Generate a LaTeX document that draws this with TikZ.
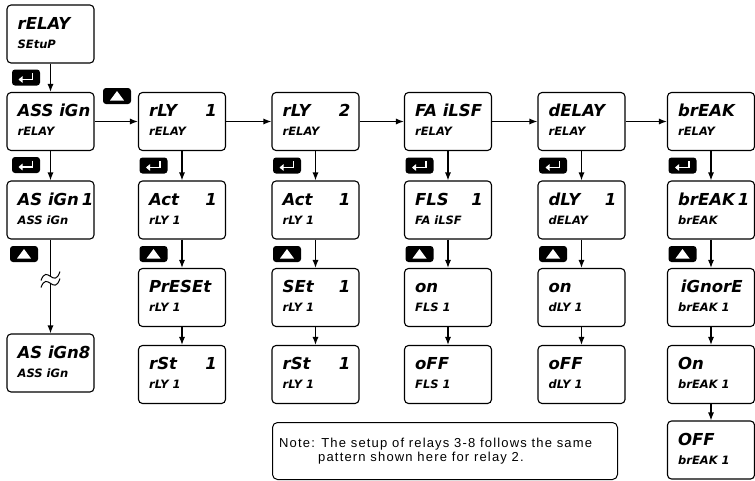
\documentclass[tikz,border=0pt]{standalone}
\usepackage{fontspec}
\setmainfont{Liberation Sans}
\newfontfamily\segfont{DejaVu Sans}
\newfontfamily\notefont{Liberation Sans}[LetterSpace=9]
\usetikzlibrary{arrows.meta,calc}
\tikzset{
  dbox/.style={draw, rounded corners=4pt, line width=1.1pt, minimum width=87pt, minimum height=58pt, inner sep=0pt},
  lineone/.style={anchor=base west, inner sep=0pt, font=\segfont\bfseries\itshape\fontsize{16.5}{16.5}\selectfont},
  lineonr/.style={lineone, anchor=base east},
  linetwo/.style={anchor=base west, inner sep=0pt, font=\segfont\bfseries\itshape\fontsize{11.5}{11.5}\selectfont},
  arr/.style={line width=1.1pt, -{Latex[length=8pt,width=6pt]}},
  keybox/.style={fill=black, rounded corners=3pt, minimum width=28pt, minimum height=16pt, inner sep=0pt},
  notebox/.style={draw, rounded corners=5pt, line width=1pt, minimum width=345pt, minimum height=57pt, inner sep=0pt, anchor=north west},
  notetext/.style={anchor=base west, inner sep=0pt, font=\notefont\fontsize{13}{14}\selectfont},
}
% name, left x, top y, line1, right text, line2
\newcommand\dispbox[6]{%
  \node[dbox] (#1) at (#2+43.5,#3+29) {};
  \node[lineone] (#1-a) at ([shift={(11,25)}]#1.north west) {#4};
  \node[lineonr] (#1-b) at ([shift={(-9,25)}]#1.north east) {#5};
  \node[linetwo] (#1-c) at ([shift={(11,44)}]#1.north west) {#6};
}
\newcommand\enterkey[3]{%
  \node[keybox] (#1) at (#2,#3) {};
  \draw[white, line width=1.6pt, -{Triangle[length=4pt,width=6.5pt]}]
    ([shift={(6.5,-4.5)}]#1.center) -- ([shift={(6.5,2)}]#1.center) -- ([shift={(-7.5,2)}]#1.center);
}
\newcommand\upkey[3]{%
  \node[keybox] (#1) at (#2,#3) {};
  \fill[white] ([shift={(-7,4.5)}]#1.center) -- ([shift={(7,4.5)}]#1.center) -- ([shift={(0,-5)}]#1.center) -- cycle;
}
\begin{document}
\begin{tikzpicture}[x=1pt,y=-1pt]
\useasboundingbox (0,0) rectangle (755,480);
% column 0
\dispbox{setup}{7}{5}{rELAY}{}{SEtuP}
\dispbox{assign}{7}{92.5}{ASS iGn}{}{rELAY}
\dispbox{asg1}{7}{181}{AS iGn\hspace{3pt}1}{}{ASS iGn}
\dispbox{asg8}{7}{334}{AS iGn8}{}{ASS iGn}
% column 1
\dispbox{rly1}{138.5}{92.5}{rLY}{1}{rELAY}
\dispbox{act1}{138.5}{181}{Act}{1}{rLY 1}
\dispbox{preset}{138.5}{268.5}{PrESEt}{}{rLY 1}
\dispbox{rst1}{138.5}{345.5}{rSt}{1}{rLY 1}
% column 2
\dispbox{rly2}{272}{92.5}{rLY}{2}{rELAY}
\dispbox{act2}{272}{181}{Act}{1}{rLY 1}
\dispbox{set2}{272}{268.5}{SEt}{1}{rLY 1}
\dispbox{rst2}{272}{345.5}{rSt}{1}{rLY 1}
% column 3
\dispbox{fail}{404.5}{92.5}{FA iLSF}{}{rELAY}
\dispbox{fls}{404.5}{181}{FLS}{1}{FA iLSF}
\dispbox{flson}{404.5}{268.5}{on}{}{FLS 1}
\dispbox{flsoff}{404.5}{345.5}{oFF}{}{FLS 1}
% column 4
\dispbox{delay}{538}{92.5}{dELAY}{}{rELAY}
\dispbox{dly}{538}{181}{dLY}{1}{dELAY}
\dispbox{dlyon}{538}{268.5}{on}{}{dLY 1}
\dispbox{dlyoff}{538}{345.5}{oFF}{}{dLY 1}
% column 5
\dispbox{brk}{667.5}{92.5}{brEAK}{}{rELAY}
\dispbox{brk1}{667.5}{181}{brEAK\hspace{3pt}1}{}{brEAK}
\dispbox{ign}{667.5}{268.5}{\,iGnorE}{}{brEAK 1}
\dispbox{brkon}{667.5}{345.5}{On}{}{brEAK 1}
\dispbox{brkoff}{667.5}{421}{OFF}{}{brEAK 1}
% keys
\enterkey{k0}{26}{77.5}
\enterkey{k1}{26}{165}
\upkey{u0}{24}{254}
\upkey{uh}{117}{96}
\enterkey{k2}{153.5}{165.5}
\upkey{u1}{153.5}{254}
\enterkey{k3}{287}{165.5}
\upkey{u2}{287}{254}
\enterkey{k4}{419.5}{165.5}
\upkey{u3}{419.5}{254}
\enterkey{k5}{553}{165.5}
\upkey{u4}{553}{254}
\enterkey{k6}{682.5}{165.5}
\upkey{u5}{682.5}{254}
% connectors
\draw[arr] (setup) -- (assign);
\draw[arr] (assign) -- (asg1);
\draw[arr] (asg1) -- (asg8);
\draw[arr] (assign) -- (rly1);
\draw[arr] (rly1) -- (rly2);
\draw[arr] (rly2) -- (fail);
\draw[arr] (fail) -- (delay);
\draw[arr] (delay) -- (brk);
\draw[arr] (rly1) -- (act1);
\draw[arr] (act1) -- (preset);
\draw[arr] (preset) -- (rst1);
\draw[arr] (rly2) -- (act2);
\draw[arr] (act2) -- (set2);
\draw[arr] (set2) -- (rst2);
\draw[arr] (fail) -- (fls);
\draw[arr] (fls) -- (flson);
\draw[arr] (flson) -- (flsoff);
\draw[arr] (delay) -- (dly);
\draw[arr] (dly) -- (dlyon);
\draw[arr] (dlyon) -- (dlyoff);
\draw[arr] (brk) -- (brk1);
\draw[arr] (brk1) -- (ign);
\draw[arr] (ign) -- (brkon);
\draw[arr] (brkon) -- (brkoff);
% break mark
\draw[white, line width=5pt] (41,284) .. controls (47,267) and (54,293) .. (60,275);
\draw[line width=1pt] (41,287.5) .. controls (47,270.5) and (54,296.5) .. (60,278.5);
\draw[line width=1pt] (41,280.5) .. controls (47,263.5) and (54,289.5) .. (60,271.5);
% note
\node[notebox] (note) at (272,422) {};
\node[notetext] (note-a) at (279,447) {Note: The setup of relays 3-8 follows the same};
\node[notetext] (note-b) at (318,461) {pattern shown here for relay 2.};
\end{tikzpicture}
\end{document}
